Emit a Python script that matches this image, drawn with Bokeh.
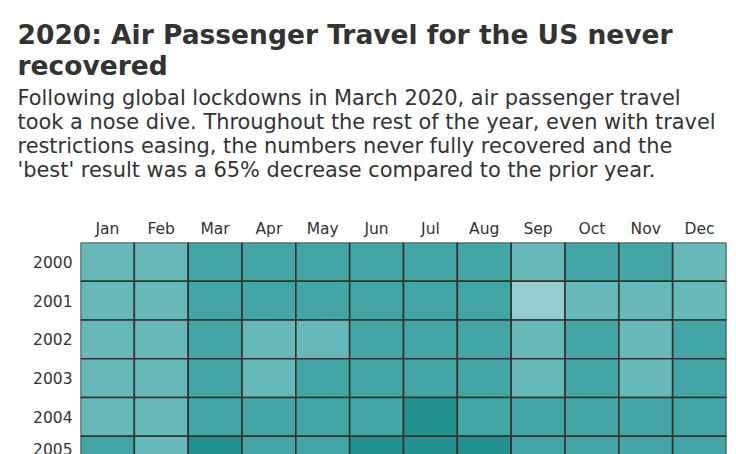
import numpy as np
from bokeh.plotting import figure
from bokeh.models import (ColumnDataSource, Range1d, FactorRange, FixedTicker,
                          LinearColorMapper, Title)
from bokeh.transform import transform
from bokeh.embed import file_html
from bokeh.resources import INLINE

months = ["Jan", "Feb", "Mar", "Apr", "May", "Jun",
          "Jul", "Aug", "Sep", "Oct", "Nov", "Dec"]
years = [2000, 2001, 2002, 2003, 2004, 2005]

# monthly air passengers (millions), estimated from the colour bands
p2000 = [49.0, 49.5, 59.8, 57.6, 58.9, 62.5, 64.0, 63.4, 52.7, 55.8, 55.2, 53.6]
p2001 = [50.3, 48.2, 59.1, 57.5, 58.0, 61.2, 63.4, 62.9, 36.2, 46.3, 46.0, 48.1]
p2002 = [45.9, 46.7, 57.5, 53.6, 54.4, 58.2, 60.8, 60.1, 47.9, 55.3, 52.4, 55.6]
p2003 = [48.2, 46.1, 56.0, 52.9, 56.1, 59.5, 63.1, 61.4, 50.6, 55.9, 53.8, 56.7]
p2004 = [51.3, 51.9, 61.5, 60.2, 60.8, 64.7, 66.9, 64.8, 56.3, 60.5, 58.7, 60.9]
p2005 = [55.4, 53.2, 65.6, 61.4, 63.3, 66.2, 69.5, 67.4, 57.9, 60.8, 59.6, 61.8]
rows = [p2000, p2001, p2002, p2003, p2004, p2005]

palette = ["#93cdcd", "#67b8b8", "#43a6a5", "#24918f"]

title_lines = ["2020: Air Passenger Travel for the US never", "recovered"]
subtitle_lines = [
    "Following global lockdowns in March 2020, air passenger travel",
    "took a nose dive. Throughout the rest of the year, even with travel",
    "restrictions easing, the numbers never fully recovered and the",
    "'best' result was a 65% decrease compared to the prior year.",
]

xs, ys, vs = [], [], []
for yr, row in zip(years, rows):
    for m, v in zip(months, row):
        xs.append(m)
        ys.append(yr)
        vs.append(v)
source = ColumnDataSource(dict(month=xs, year=ys, value=vs))

mapper = LinearColorMapper(palette=palette, low=35, high=75)

TEXT = "#333333"
FONT = "DejaVu Sans"

# the view is cut off part-way through the last row, as in the original
y_end = years[-1] - 0.03
y_start = years[0] - 0.5

p = figure(width=736, height=454,
           x_range=FactorRange(*months),
           y_range=Range1d(y_end, y_start),
           x_axis_location="above",
           output_backend="svg", toolbar_location=None, title=None,
           min_border_left=80, min_border_right=10, min_border_bottom=0,
           min_border_top=0)

p.rect(x="month", y="year", width=1, height=1, source=source,
       fill_color=transform("value", mapper),
       line_color="#333333", line_width=1.6)

for ax in (p.xaxis[0], p.yaxis[0]):
    ax.axis_line_color = None
    ax.major_tick_line_color = None
    ax.minor_tick_line_color = None
    ax.major_tick_out = 0
    ax.major_tick_in = 0
    ax.minor_tick_out = 0
    ax.minor_tick_in = 0
    ax.major_label_text_font = FONT
    ax.major_label_text_font_size = "15.5px"
    ax.major_label_text_color = TEXT
p.xaxis.major_label_standoff = 5
p.yaxis.major_label_standoff = 8

# last (partially visible) year label sits at the bottom edge of the view
last_tick = y_end - 0.003
y_ticks = years[:-1] + [last_tick]
p.yaxis.ticker = FixedTicker(ticks=y_ticks)
overrides = {y: str(y) for y in years[:-1]}
overrides[last_tick] = str(years[-1])
p.yaxis.major_label_overrides = overrides

p.xgrid.grid_line_color = None
p.ygrid.grid_line_color = None
p.outline_line_color = None

# titles: added from nearest-to-plot outward
p.add_layout(Title(text=" ", standoff=46, text_font_size="1px"), "above")
p.add_layout(Title(text="\n".join(subtitle_lines), align="left", offset=-63,
                   text_font=FONT, text_font_size="20.9px",
                   text_font_style="normal", text_line_height=1.01,
                   text_color=TEXT, standoff=-30), "above")
p.add_layout(Title(text="\n".join(title_lines), align="left", offset=-63,
                   text_font=FONT, text_font_size="26.5px",
                   text_font_style="bold", text_line_height=1.01,
                   text_color=TEXT, standoff=34), "above")

p.background_fill_color = "white"
p.border_fill_color = "white"

open("out.html", "w").write(file_html(p, INLINE))
